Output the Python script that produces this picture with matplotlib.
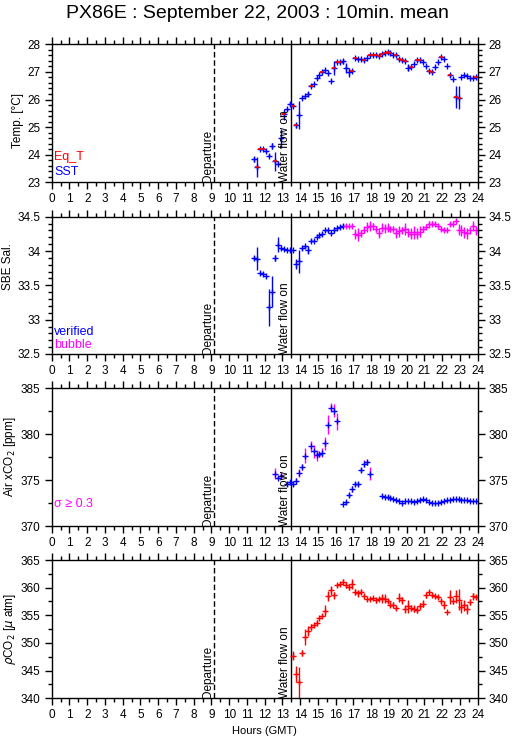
import numpy as np
import matplotlib
matplotlib.use("Agg")
import matplotlib.pyplot as plt
from matplotlib.ticker import MultipleLocator, FuncFormatter

plt.rcParams['font.family'] = ['Liberation Sans', 'DejaVu Sans']

BLUE, RED, MAG = '#0000ff', '#ff0000', '#ff00ff'

# ---- Temperature: SST (blue) and Eq_T (red) ----
sst_t = [11.42, 11.58, 11.75, 11.92, 12.08, 12.25, 12.42, 12.58, 12.75, 12.92, 13.08, 13.25, 13.42,
         13.58, 13.75, 13.92, 14.08, 14.25, 14.42, 14.58, 14.75, 14.92, 15.08, 15.25, 15.42, 15.58,
         15.75, 15.92, 16.08, 16.25, 16.42, 16.58, 16.75, 16.92, 17.08, 17.25, 17.42, 17.58, 17.75,
         17.92, 18.08, 18.25, 18.42, 18.58, 18.75, 18.92, 19.08, 19.25, 19.42, 19.58, 19.75, 19.92,
         20.08, 20.25, 20.42, 20.58, 20.75, 20.92, 21.08, 21.25, 21.42, 21.58, 21.75, 21.92, 22.08,
         22.25, 22.42, 22.58, 22.75, 22.92, 23.08, 23.25, 23.42, 23.58, 23.75, 23.92]
sst_v = [23.83, 23.55, 24.21, 24.19, 24.13, 23.96, 24.31, 23.76, 23.68, 24.59, 25.46, 25.65, 25.83,
         25.77, 25.06, 25.45, 26.07, 26.12, 26.19, 26.50, 26.58, 26.77, 26.90, 26.98, 27.08, 26.97,
         26.67, 27.14, 27.35, 27.37, 27.38, 27.14, 26.98, 27.04, 27.49, 27.47, 27.47, 27.42, 27.50,
         27.60, 27.60, 27.60, 27.59, 27.65, 27.70, 27.71, 27.68, 27.62, 27.61, 27.47, 27.42, 27.39,
         27.16, 27.19, 27.27, 27.44, 27.43, 27.37, 27.20, 27.04, 27.00, 27.19, 27.36, 27.53, 27.48,
         27.20, 26.90, 26.74, 26.09, 26.06, 26.80, 26.90, 26.86, 26.79, 26.79, 26.82]
sst_e = [0.08, 0.35, 0.03, 0.03, 0.03, 0.05, 0.10, 0.35, 0.07, 0.35, 0.20, 0.06, 0.08,
         0.05, 0.08, 0.50, 0.03, 0.03, 0.08, 0.03, 0.03, 0.03, 0.03, 0.03, 0.03, 0.03,
         0.03, 0.25, 0.03, 0.03, 0.10, 0.18, 0.15, 0.03, 0.03, 0.03, 0.03, 0.03, 0.03,
         0.03, 0.03, 0.03, 0.03, 0.03, 0.03, 0.03, 0.03, 0.03, 0.03, 0.03, 0.03, 0.03,
         0.12, 0.03, 0.03, 0.03, 0.03, 0.03, 0.03, 0.03, 0.03, 0.03, 0.03, 0.03, 0.03,
         0.03, 0.03, 0.03, 0.40, 0.42, 0.03, 0.03, 0.03, 0.03, 0.03, 0.03]
eqt_t = [11.58, 11.75, 11.92, 12.58, 13.08, 13.58, 13.75, 14.58, 15.25, 15.92, 16.08, 16.25, 16.92,
         17.08, 17.58, 17.92, 18.08, 18.25, 18.42, 18.58, 18.75, 18.92, 19.08, 19.42, 19.58, 19.75,
         19.92, 20.25, 20.58, 20.75, 21.25, 21.42, 21.92, 22.42, 22.75, 22.92, 23.92]
eqt_v = [23.55, 24.21, 24.19, 23.76, 25.46, 25.77, 25.06, 26.50, 26.98, 27.14, 27.35, 27.37, 27.04,
         27.49, 27.42, 27.60, 27.60, 27.60, 27.59, 27.65, 27.70, 27.71, 27.68, 27.61, 27.47, 27.42,
         27.39, 27.19, 27.44, 27.43, 27.04, 27.00, 27.53, 26.90, 26.09, 26.06, 26.82]

# ---- Salinity: verified (blue) and bubble (magenta) ----
sal_ver_t = [11.42, 11.58, 11.75, 11.92, 12.08, 12.25, 12.42, 12.58, 12.75, 12.92, 13.08, 13.25, 13.42,
             13.58, 13.75, 13.92, 14.08, 14.25, 14.42, 14.58, 14.75, 14.92, 15.08, 15.25, 15.42, 15.58,
             15.75, 15.92, 16.08, 16.25, 16.42]
sal_ver_v = [33.90, 33.89, 33.68, 33.67, 33.63, 33.18, 33.41, 33.90, 34.09, 34.04, 34.03, 34.01, 34.01,
             34.01, 33.81, 33.85, 34.04, 34.07, 34.01, 34.15, 34.15, 34.20, 34.23, 34.25, 34.30, 34.30,
             34.26, 34.31, 34.33, 34.35, 34.37]
sal_ver_e = [0.03, 0.17, 0.02, 0.02, 0.01, 0.27, 0.22, 0.04, 0.11, 0.02, 0.01, 0.01, 0.01,
             0.01, 0.07, 0.17, 0.02, 0.02, 0.06, 0.02, 0.01, 0.01, 0.01, 0.02, 0.02, 0.02,
             0.02, 0.04, 0.02, 0.02, 0.02]
sal_bub_t = [16.58, 16.75, 16.92, 17.08, 17.25, 17.42, 17.58, 17.75, 17.92, 18.08, 18.25, 18.42, 18.58,
             18.75, 18.92, 19.08, 19.25, 19.42, 19.58, 19.75, 19.92, 20.08, 20.25, 20.42, 20.58, 20.75,
             20.92, 21.08, 21.25, 21.42, 21.58, 21.75, 21.92, 22.08, 22.25, 22.42, 22.58, 22.75, 22.92,
             23.08, 23.25, 23.42, 23.58, 23.75, 23.92]
sal_bub_v = [34.37, 34.36, 34.36, 34.25, 34.24, 34.26, 34.31, 34.35, 34.36, 34.36, 34.32, 34.26, 34.34,
             34.33, 34.34, 34.32, 34.32, 34.26, 34.29, 34.30, 34.32, 34.27, 34.25, 34.27, 34.25, 34.28,
             34.32, 34.35, 34.39, 34.40, 34.39, 34.37, 34.32, 34.31, 34.31, 34.39, 34.40, 34.44, 34.31,
             34.30, 34.27, 34.26, 34.30, 34.36, 34.30]
sal_bub_e = [0.02, 0.02, 0.02, 0.07, 0.10, 0.05, 0.05, 0.07, 0.07, 0.05, 0.05, 0.07, 0.07,
             0.07, 0.07, 0.05, 0.05, 0.07, 0.08, 0.05, 0.09, 0.07, 0.08, 0.09, 0.08, 0.08,
             0.05, 0.03, 0.05, 0.04, 0.03, 0.03, 0.03, 0.03, 0.03, 0.03, 0.03, 0.03, 0.08,
             0.08, 0.08, 0.08, 0.05, 0.07, 0.06]

# ---- Air xCO2 ----
air_t = [12.58, 12.75, 12.92, 13.25, 13.42, 13.58, 13.75, 13.92, 14.08, 14.25, 14.58, 14.75, 14.92,
         15.08, 15.25, 15.42, 15.58, 15.75, 15.92, 16.08, 16.42, 16.58, 16.75, 16.92, 17.08, 17.25,
         17.42, 17.58, 17.75, 17.92,
         18.58, 18.75, 18.92, 19.08, 19.25, 19.42, 19.58, 19.75, 19.92, 20.08, 20.25, 20.42, 20.58,
         20.75, 20.92, 21.08, 21.25, 21.42, 21.58, 21.75, 21.92, 22.08, 22.25, 22.42, 22.58, 22.75,
         22.92, 23.08, 23.25, 23.42, 23.58, 23.75, 23.92]
air_v = [375.7, 375.2, 375.5, 374.6, 374.8, 374.6, 374.9, 375.8, 376.45, 377.65, 378.7, 378.15, 377.7,
         377.8, 378.0, 379.0, 381.05, 382.9, 382.55, 381.4, 372.4, 372.6, 373.4, 374.05, 374.6, 374.6,
         376.1, 376.8, 376.95, 375.7,
         373.28, 373.2, 373.17, 373.1, 372.95, 372.8, 372.73, 372.48, 372.73, 372.73, 372.7, 372.62,
         372.7, 372.88, 372.92, 372.8, 372.59, 372.51, 372.48, 372.51, 372.66, 372.73, 372.8, 372.88,
         372.92, 372.92, 372.92, 372.88, 372.88, 372.8, 372.77, 372.73, 372.7]
air_e = [0.6, 0.1, 0.35, 0.25, 0.15, 0.2, 0.3, 0.45, 0.3, 0.8, 0.6, 0.7, 0.6,
         0.3, 0.5, 0.7, 1.0, 0.5, 0.7, 0.9, 0.05, 0.15, 0.2, 0.35, 0.25, 0.2,
         0.25, 0.4, 0.25, 0.7,
         0.1, 0.1, 0.08, 0.05, 0.05, 0.05, 0.05, 0.05, 0.05, 0.05, 0.05, 0.05, 0.05,
         0.05, 0.05, 0.05, 0.05, 0.05, 0.05, 0.05, 0.05, 0.05, 0.05, 0.05, 0.05, 0.05,
         0.05, 0.05, 0.05, 0.05, 0.05, 0.05, 0.05]
SIGMA_LIM = 0.3

# ---- pCO2 ----
pco2_t = [13.58, 13.75, 13.92, 14.08, 14.25, 14.42, 14.58, 14.75, 14.92, 15.08, 15.25, 15.42, 15.58,
          15.75, 15.92, 16.08, 16.25, 16.42, 16.58, 16.75, 16.92, 17.08, 17.25, 17.42, 17.58, 17.75,
          17.92, 18.08, 18.25, 18.42, 18.58, 18.75, 18.92, 19.08, 19.25, 19.42, 19.58, 19.75, 19.92,
          20.08, 20.25, 20.42, 20.58, 20.75, 20.92, 21.08, 21.25, 21.42, 21.58, 21.75, 21.92, 22.08,
          22.25, 22.42, 22.58, 22.75, 22.92, 23.08, 23.25, 23.42, 23.58, 23.75, 23.92]
pco2_v = [347.7, 344.4, 342.9, 348.2, 351.1, 352.1, 352.9, 353.3, 353.7, 354.5, 354.95, 355.85, 358.45,
          359.55, 358.6, 360.4, 360.7, 361.0, 360.45, 360.15, 360.7, 359.2, 358.95, 359.3, 358.45, 358.0,
          358.0, 358.05, 357.7, 358.0, 358.05, 358.0, 357.55, 356.95, 356.95, 356.35, 358.15, 357.7, 356.15,
          356.65, 356.35, 356.2, 356.05, 356.65, 357.1, 358.6, 359.2, 358.65, 358.45, 358.3, 357.5, 356.8,
          355.6, 358.3, 357.55, 358.45, 357.85, 356.45, 356.8, 356.2, 357.4, 358.45, 358.3]
pco2_e = [0.8, 1.5, 2.8, 0.6, 1.4, 0.9, 0.5, 0.4, 0.5, 0.3, 0.3, 1.0, 0.9,
          0.8, 0.6, 0.3, 0.4, 0.6, 0.6, 0.5, 0.9, 0.5, 0.6, 0.5, 0.4, 0.4,
          0.3, 0.3, 0.4, 0.4, 0.8, 0.8, 0.4, 0.5, 0.5, 0.3, 0.8, 0.6, 0.8,
          1.2, 0.6, 0.6, 0.6, 0.5, 0.6, 0.5, 0.3, 0.4, 0.3, 0.4, 0.5, 0.7,
          0.1, 1.3, 0.5, 1.2, 1.9, 1.1, 1.0, 0.9, 0.5, 0.6, 0.4]

DEPARTURE = 9.15
WATER_ON = 13.5

fig = plt.figure(figsize=(5.15, 7.39), dpi=100)
L, W = 0.1004, 0.8272
boxes = [(0.7533, 0.1867), (0.5210, 0.1858), (0.2882, 0.1863), (0.0551, 0.1871)]
axes = [fig.add_axes([L, b, W, h]) for b, h in boxes]


def style(ax, ylim, major, minor, label, lab_xy):
    ax.set_xlim(0, 24)
    ax.set_ylim(*ylim)
    ax.xaxis.set_major_locator(MultipleLocator(1))
    ax.xaxis.set_minor_locator(MultipleLocator(0.5))
    ax.yaxis.set_major_locator(MultipleLocator(major))
    ax.yaxis.set_minor_locator(MultipleLocator(minor))
    ax.yaxis.set_major_formatter(FuncFormatter(lambda v, p: f"{v:g}"))
    ax.tick_params(which='both', direction='out', top=True, right=True,
                   labelright=True, labelsize=8.5, width=1, pad=3)
    ax.tick_params(which='major', length=5)
    ax.tick_params(which='minor', length=3)
    for s in ax.spines.values():
        s.set_linewidth(1)
    ax.set_ylabel(label, fontsize=8.5)
    ax.yaxis.set_label_coords(*lab_xy)
    ax.axvline(DEPARTURE, color='k', lw=1, ls=(0, (4, 2)))
    ax.axvline(WATER_ON, color='k', lw=1)
    tr = ax.get_xaxis_transform()
    ax.text(DEPARTURE, 0.0, 'Departure', rotation=90, ha='right', va='bottom',
            fontsize=8.5, transform=tr)
    ax.text(WATER_ON, 0.0, 'Water flow on', rotation=90, ha='right', va='bottom',
            fontsize=8.5, transform=tr)


def crosses(ax, t, v, e, color, ecolor=None):
    ax.errorbar(t, v, yerr=e, fmt='none', ecolor=ecolor or color, elinewidth=1, capsize=0)
    ax.plot(t, v, '+', color=color, ms=4, mew=1)


# Panel 1: temperature
ax = axes[0]
style(ax, (23, 28), 1, 0.2, 'Temp. [°C]', (-0.066, 0.45))
crosses(ax, sst_t, sst_v, sst_e, BLUE)
ax.plot(eqt_t, eqt_v, '_', color=RED, ms=2.8, mew=1.2)
ax.text(0.006, 0.183, 'Eq_T', color=RED, fontsize=9, transform=ax.transAxes, va='center')
ax.text(0.006, 0.075, 'SST', color=BLUE, fontsize=9, transform=ax.transAxes, va='center')

# Panel 2: salinity
ax = axes[1]
style(ax, (32.5, 34.5), 0.5, 0.1, 'SBE Sal.', (-0.088, 0.64))
crosses(ax, sal_ver_t, sal_ver_v, sal_ver_e, BLUE)
crosses(ax, sal_bub_t, sal_bub_v, sal_bub_e, MAG)
ax.text(0.006, 0.158, 'verified', color=BLUE, fontsize=9, transform=ax.transAxes, va='center')
ax.text(0.006, 0.065, 'bubble', color=MAG, fontsize=9, transform=ax.transAxes, va='center')

# Panel 3: air xCO2
ax = axes[2]
style(ax, (370, 385), 5, 2.5, 'Air xCO$_2$ [ppm]', (-0.078, 0.5))
at, av, ae = np.array(air_t), np.array(air_v), np.array(air_e)
big = ae >= SIGMA_LIM
ax.errorbar(at[~big], av[~big], yerr=ae[~big], fmt='none', ecolor=BLUE, elinewidth=1, capsize=0)
ax.errorbar(at[big], av[big], yerr=ae[big], fmt='none', ecolor=MAG, elinewidth=1, capsize=0)
ax.plot(at, av, '+', color=BLUE, ms=4, mew=1)
ax.text(0.006, 0.16, 'σ ≥ 0.3', color=MAG, fontsize=9, transform=ax.transAxes, va='center')

# Panel 4: pCO2
ax = axes[3]
style(ax, (340, 365), 5, 2.5, r'$\rho$CO$_2$ [$\mu$ atm]', (-0.078, 0.5))
crosses(ax, pco2_t, pco2_v, pco2_e, RED)
ax.set_xlabel('Hours (GMT)', fontsize=8, labelpad=3)

fig.suptitle('PX86E : September 22, 2003 : 10min. mean', fontsize=14, y=0.993)

fig.savefig('out.png', dpi=100)
